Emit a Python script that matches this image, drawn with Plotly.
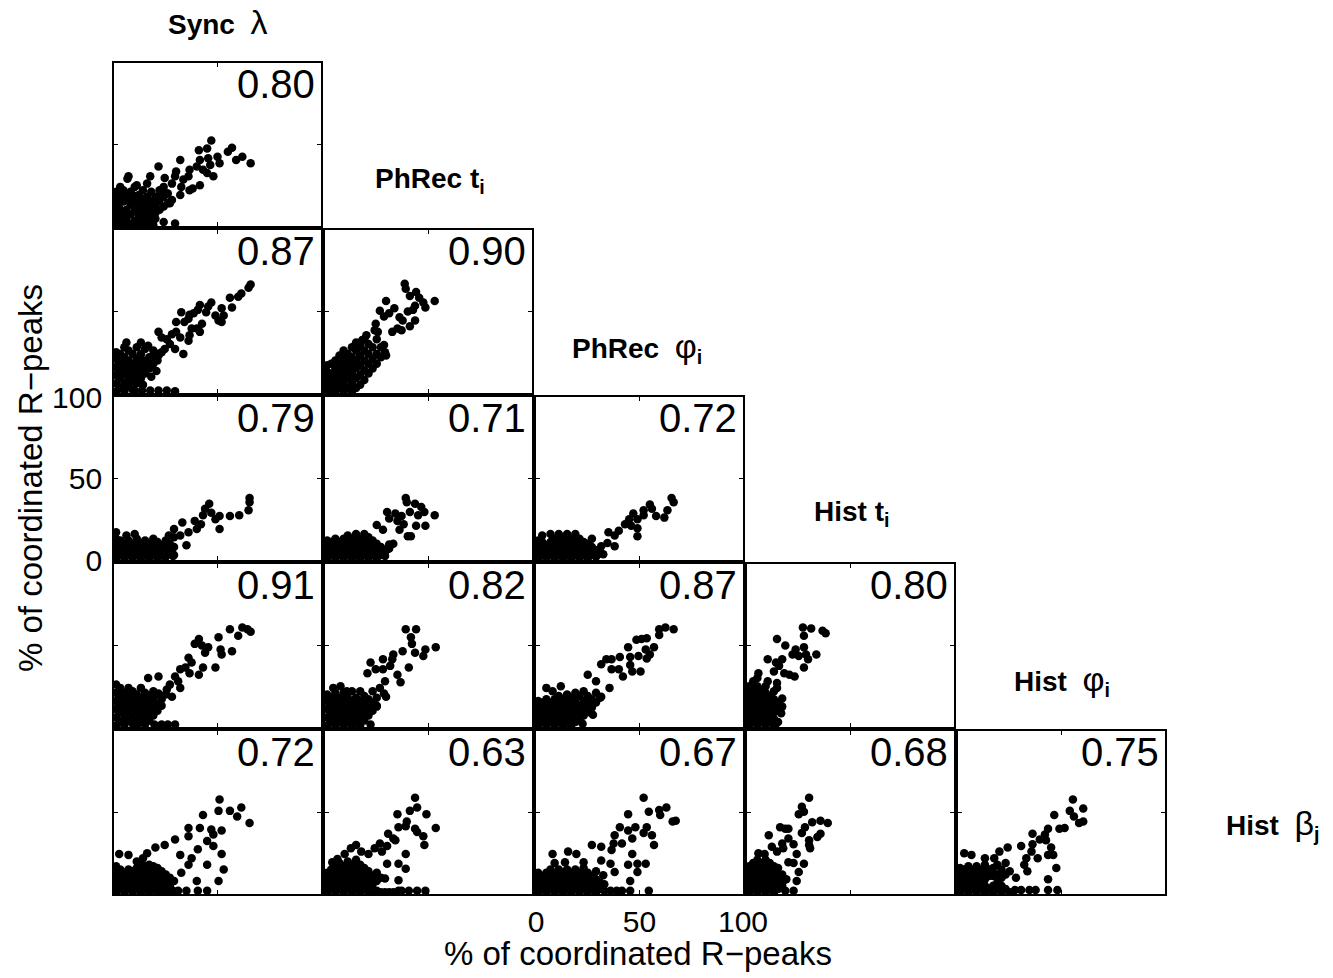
import plotly.graph_objects as go

# ---------------- data ----------------
GR = '<span style="font-size:34px">{}</span>'
var_labels = ["<b>Sync</b>  " + GR.format("λ"),
              "<b>PhRec t<sub>i</sub></b>",
              "<b>PhRec</b>  " + GR.format("φ") + "<sub><b>i</b></sub>",
              "<b>Hist t<sub>i</sub></b>",
              "<b>Hist</b>  " + GR.format("φ") + "<sub><b>i</b></sub>",
              "<b>Hist</b>  " + GR.format("β") + "<sub><b>j</b></sub>"]
corr_r0 = ["0.80"]
corr_r1 = ["0.87", "0.90"]
corr_r2 = ["0.79", "0.71", "0.72"]
corr_r3 = ["0.91", "0.82", "0.87", "0.80"]
corr_r4 = ["0.72", "0.63", "0.67", "0.68", "0.75"]
tick_vals = [0, 50, 100]
tick_text = ["0", "50", "100"]
axis_title = "% of coordinated R\u2212peaks"

# points (x, y) for each panel, row r (y variable = r+1), column c (x variable = c)
pts_r0c0 = [(1,1),(1,5),(1,9),(1,13),(1,17),(1,21),(2.5,3),(2.5,11),(2.5,19),(3,24),(4.5,2),(4.5,7),(4.5,15),(4.5,22),
            (6,4),(6,10),(6,18),(6.5,29),(8,1),(8,7),(8,13),(8,21),(10,3),(10,9),(10,16),(10,24),(12,1),(12,6),(12,12),
            (12,19),(14,4),(14,9),(14,15),(14,22),(16,2),(16,7),(16,12),(16,18),(18,5),(18,10),(18,15),(18,21),(20,8),
            (20,13),(20,18),(22,10),(22,16),(22,22),(24,12),(24,18),(26,14),(26,20),(28,16),(3,0.5),(7,0.5),(11,0.5),
            (15,0.5),(19,0.5),(3,7),(3,15),(7,17),(9,19),(11,14),(13,17),(15,9),(17,13),(19,10),(21,15),(23,20),
            (47,52.5),(57,48),(66,38.5),(62,42.5),(59,40.5),(55,45.5),(50,42.5),(51,38.5),(45,47.5),(41,46.5),(45.5,41.5),
            (41.5,40.5),(46.5,37.5),(43,34.5),(48,30.5),(45,32.5),(40,36.5),(36.5,34.5),(36,30.5),(32,40.5),(21.5,36.5),
            (30,33.5),(33.5,28.5),(32.5,24),(38,23),(41.5,25),(36.5,22),(29.5,30.5),(28,26),(24.5,29.5),(24,24),(25.5,20),
            (32,19),(27,14),(29.5,1.5),(24,2.5),(20,4.5),(16.5,8),(17.5,30.5),(16,26),(11,25),(7,30.5)]

pts_r1c0 = [(1,1),(1,6),(1,11),(1,16),(1,21),(1,25),(3,3),(3,9),(3,14),(3,19),(3,24),(5,1),(5,6),(5,12),(5,17),(5,22),
            (5,28),(7,4),(7,9),(7,15),(7,20),(7,26),(9,2),(9,11),(9,18),(9,24),(11,6),(11,14),(11,21),(11,28),(13,9),
            (13,17),(13,24),(15,12),(15,20),(15,27),(17,15),(17,22),(19,18),(19,26),(21,20),(23,25),(14,5),(18,10),(6,31),
            (9,7),(11,10),(13,13),(15,16),(17,19),(19,22),(11,17),(13,20),(9,14),(7,12),(21,24),
            (66,66.5),(65,64.5),(61.5,61),(60,59),(56,58.5),(57,52.5),(52,52),(53,47.5),(50.5,44.5),(52,43.5),(49,47.5),
            (47,55.5),(45.5,53),(44.5,49.5),(41.5,54),(40.5,51),(38.5,49),(36.5,48),(32.5,49.5),(36,45.5),(34,43.5),
            (42.5,42.5),(40,39.5),(41.5,37.5),(37.5,39.5),(36.5,35.5),(36,32),(32,34),(30,37.5),(30,43.5),(28,36),
            (33.5,24),(29.5,27),(27,30),(21.5,37.5),(23,34),(25.5,33),(24.5,27),(21.5,23),(20.5,13.5),(18,16.5),(13,31),
            (16.5,29),(29.5,1),(25.5,1.5),(21.5,1.5),(17.5,1.5),(13.5,1.5),(10,1.5)]

pts_r1c1 = [(1,1),(1,5),(1,9),(1,13),(1,17),(3,2),(3,7),(3,12),(3,18),(5,1),(5,5),(5,10),(5,15),(5,20),(7,3),(7,8),
            (7,13),(7,18),(7,23),(9,1),(9,6),(9,11),(9,16),(9,21),(9,26),(11,3),(11,9),(11,14),(11,19),(11,24),(13,1),
            (13,6),(13,12),(13,17),(13,22),(13,28),(15,3),(15,9),(15,15),(15,20),(15,26),(15,31),(17,5),(17,11),(17,17),
            (17,23),(17,29),(19,8),(19,14),(19,20),(19,26),(19,33),(21,12),(21,18),(21,24),(21,30),(23,15),(23,21),
            (23,28),(25,18),(25,24),(25,33),(27,22),(27,28),(29,25),
            (38.5,67),(39,64),(44,62),(41,59.5),(45.5,58.5),(53,56.5),(47.5,55.5),(48.5,52.5),(29.5,56.5),(43.5,53.5),
            (42.5,51),(40,50),(33.5,52),(31,49),(26.5,50.5),(36,46.5),(37.5,44.5),(43.5,44.5),(41,41),(35,39.5),
            (37,38.5),(32.5,37.5),(28.5,47),(24.5,42.5),(24,38.5),(25.5,37.5),(20,35.5),(18,32.5),(29.5,23),(28.5,29.5)]

pts_r2c0 = [(1,1),(1,5),(1,9),(1,13),(1,17),(3,3),(3,8),(3,12),(5,1),(5,5),(5,10),(6,15),(7,3),(7,8),(7,12),(9,1),(9,5),
            (9,10),(10,16),(11,3),(11,8),(11,13),(13,1),(13,5),(13,10),(15,3),(15,8),(15,12),(17,1),(17,5),(17,10),(19,3),
            (19,8),(19,13),(21,1),(21,6),(21,11),(23,4),(23,9),(25,2),(25,7),(25,12),(27,5),(27,10),(29,3),(29,8),
            (65.5,38),(65.5,35.5),(65,30.5),(60.5,27.5),(56,27),(51,27),(51,19),(46,34.5),(44,31.5),(47,29),(43,27.5),
            (49,25),(42,22),(39,24),(40,19),(36,17),(33,23),(29,19),(32,15),(35,9),(29,14),(26.5,15),(28.5,2.5),(24,2.5)]

pts_r2c1 = [(1,1),(1,5),(1,9),(1,12),(3,3),(3,7),(3,11),(5,1),(5,5),(5,9),(5,13),(7,3),(7,7),(7,11),(9,1),(9,5),(9,9),
            (9,13),(11,3),(11,7),(11,11),(11,15),(13,1),(13,5),(13,9),(13,13),(15,3),(15,7),(15,11),(15,16),(17,1),(17,5),
            (17,9),(17,13),(19,3),(19,7),(19,11),(19,16),(21,1),(21,5),(21,9),(21,14),(23,3),(23,7),(23,12),(25,1),(25,5),
            (25,10),(27,3),(27,8),(29,5),(31,7),(33,10),
            (39,38),(39.5,35.5),(43.5,34.5),(46.5,32.5),(53,27.5),(48,29.5),(45,27.5),(41,29.5),(37,27),(34,28.5),(30,29.5),
            (31,25.5),(35,24),(38,22),(44,21),(48.5,21),(36,18.5),(40,14.5),(41.5,14.5),(25,21.5),(28,18.5),(31,9.5),
            (30,6.5),(29,2.5)]

pts_r2c2 = [(1,1),(1,5),(1,9),(1,12),(3,3),(3,7),(3,11),(3,15),(5,1),(5,5),(5,9),(7,3),(7,7),(7,11),(7,16),(9,1),(9,5),
            (9,9),(9,13),(11,3),(11,7),(11,11),(11,16),(13,1),(13,5),(13,9),(13,13),(15,3),(15,7),(15,11),(15,16),(17,1),
            (17,5),(17,9),(17,13),(19,3),(19,7),(19,11),(19,16),(21,1),(21,5),(21,9),(21,13),(23,3),(23,7),(23,11),(25,1),
            (25,5),(25,10),(27,3),(27,8),(27,13),(29,2),(29,6),(31,4),
            (65.5,38),(66.5,35.5),(63.5,30.5),(62,26),(58,27),(55,34),(56,31.5),(52,30.5),(52,27.5),(49,25),(47,28.5),
            (45,25),(43,22),(49,19.5),(49,14.5),(46,21),(40,18),(38,15),(35,17),(34.5,10.5),(38,8.5),(31.5,8.5),
            (29.5,5.5),(32.5,3.5)]

pts_r3c0 = [(1,1),(1,6),(1,11),(1,16),(1,21),(1,26),(3,3),(3,9),(3,14),(3,19),(3,24),(5,1),(5,6),(5,11),(5,16),(5,21),
            (7,4),(7,9),(7,14),(7,19),(7,24),(9,2),(9,7),(9,12),(9,17),(9,22),(11,5),(11,10),(11,15),(11,20),(13,3),(13,8),
            (13,13),(13,18),(15,6),(15,11),(15,16),(15,21),(17,9),(17,14),(17,19),(19,12),(19,17),(21,14),(21,20),(23,17),
            (25,20),(13,24),(11,1),(15,2),(17,4),(19,7),(21,10),(23,13),
            (66,58.5),(62,61),(64.5,60),(60,56),(56,60),(50.5,55),(57,46.5),(52,44.5),(51.5,47.5),(45.5,49),(44,45.5),
            (41,54),(42.5,50),(39,51),(36,42.5),(32,35.5),(34.5,36.5),(37.5,39.5),(43,36.5),(41,32),(49,36.5),(36.5,33),
            (29.5,31),(31,28),(27,26),(25.5,23),(21.5,31),(16.5,30),(21.5,20.5),(19,22),(28,18.5),(32,24),(29.5,1.5),
            (26,1.5),(23,1.5),(19.5,1.5),(15,1.5),(11,1.5)]

pts_r3c1 = [(1,1),(1,6),(1,11),(1,16),(1,20),(3,3),(3,8),(3,13),(3,18),(5,1),(5,6),(5,11),(5,16),(5,21),(7,3),(7,8),
            (7,13),(7,18),(9,1),(9,6),(9,11),(9,16),(9,21),(11,3),(11,8),(11,13),(11,18),(13,1),(13,6),(13,11),(13,16),
            (13,22),(15,3),(15,8),(15,13),(15,18),(17,1),(17,6),(17,11),(17,16),(17,22),(19,4),(19,9),(19,14),(19,19),
            (21,7),(21,12),(21,17),(23,10),(23,15),(23,22),(25,13),(25,18),
            (39,60),(44,60),(41.5,55),(42,51),(53.5,49),(48.5,47.5),(47.5,43.5),(43.5,45.5),(37.5,46.5),(33,44.5),
            (32.5,41.5),(28,41.5),(31.5,37.5),(22,39.5),(24.5,35.5),(20.5,33),(28,35.5),(35,32),(40.5,36.5),(36.5,27.5),
            (29,28),(26.5,24),(29.5,18.5),(25,12.5),(28.5,20.5),(22,1.5),(4,24),(7.5,25),(10.5,22)]

pts_r3c2 = [(1,1),(1,5),(1,9),(1,13),(1,16),(3,3),(3,7),(3,11),(3,15),(5,1),(5,5),(5,9),(5,13),(5,17),(7,3),(7,7),
            (7,11),(7,15),(9,1),(9,5),(9,9),(9,13),(9,17),(11,3),(11,7),(11,11),(11,15),(11,19),(13,1),(13,5),(13,9),
            (13,13),(13,17),(15,3),(15,7),(15,11),(15,15),(15,20),(17,1),(17,5),(17,9),(17,13),(17,18),(19,3),(19,7),
            (19,11),(19,16),(19,21),(21,5),(21,9),(21,13),(21,19),(23,7),(23,11),(23,16),(23,22),(25,9),(25,14),(25,19),
            (27,12),(27,17),(29,15),(29,21),(31,18),
            (59.5,60),(62.5,61),(66.5,60),(59.5,56.5),(51,54),(53.5,54.5),(48.5,53.5),(44.5,49),(53,47.5),(57,49),
            (55,44.5),(53.5,42),(49.5,43.5),(45.5,43),(40.5,43),(36.5,41.5),(34,41.5),(31.5,38.5),(40,35.5),(45.5,38),
            (50.5,34),(46.5,34),(42,31),(36.5,35.5),(25,32),(29,28),(35.5,24),(31.5,18.5),(27.5,7.5),(22.5,2),(12,25),
            (5,24),(8,22)]

pts_r3c3 = [(1,1),(1,5),(1,9),(1,13),(1,17),(1,21),(1,25),(3,3),(3,7),(3,11),(3,15),(3,19),(3,23),(3,28),(5,1),(5,5),
            (5,9),(5,13),(5,17),(5,21),(5,25),(7,3),(7,7),(7,11),(7,15),(7,19),(7,23),(9,1),(9,5),(9,9),(9,13),(9,17),
            (9,21),(9,25),(11,3),(11,7),(11,11),(11,15),(11,19),(13,1),(13,5),(13,9),(13,13),(13,17),(13,22),(15,3),
            (15,10),(15,15),
            (27,61),(31,60.5),(36.5,59),(38,57.5),(27.5,56),(14.5,54),(18.5,50),(23.5,47.5),(27.5,49),(22,44.5),(25,43.5),
            (28.5,44.5),(33.5,44.5),(29.5,41.5),(10,41.5),(14,39.5),(17,41.5),(15.5,37.5),(13,34),(18,33),(20.5,32),
            (23,31),(27.5,36.5),(5.5,33),(5,30),(14.5,27),(10,28),(14.5,24),(17,17.5),(17,12.5),(16.5,8.5),(14,2)]

pts_r4c0 = [(1,1),(1,5),(1,9),(1,13),(1,17),(3,3),(3,7),(3,11),(3,15),(5,1),(5,5),(5,9),(5,13),(7,3),(7,7),(7,11),(9,1),
            (9,5),(9,9),(9,14),(11,3),(11,7),(11,11),(11,16),(13,1),(13,5),(13,9),(13,14),(15,3),(15,7),(15,12),(15,17),
            (17,1),(17,5),(17,10),(17,15),(19,3),(19,8),(19,13),(21,1),(21,6),(21,11),(21,16),(23,4),(23,9),(23,14),(25,2),
            (25,7),(25,12),(27,5),(27,10),(29,8),(7,15),(13,18),(17,18),(19,17),(23,1),(27,1),
            (51,58),(50.5,51),(56,51),(61.5,53),(59.5,47.5),(65.5,43.5),(43,48.5),(36,40.5),(41.5,40.5),(47,39.5),(52,39),
            (48,36.5),(45,32.5),(40.5,27.5),(48,29.5),(52,24.5),(29.5,33.5),(24.5,30),(36,35.5),(32,24),(37.5,22),(36,18),
            (45,18),(53,15),(50.5,8),(40,8),(32.5,13),(20,28.5),(16,25),(14,22),(2.5,24.5),(7,24),(11,20),(45,2),(40.5,2),
            (35,2),(31,2),(28.5,2),(22,2),(17.5,2)]

pts_r4c1 = [(1,1),(1,5),(1,9),(1,13),(3,3),(3,7),(3,11),(3,15),(5,1),(5,5),(5,9),(5,13),(5,17),(7,3),(7,7),(7,11),(7,15),
            (7,19),(9,1),(9,5),(9,9),(9,13),(9,17),(11,3),(11,7),(11,11),(11,15),(11,20),(13,1),(13,5),(13,9),(13,13),
            (13,18),(15,3),(15,7),(15,11),(15,15),(15,21),(17,1),(17,5),(17,9),(17,13),(17,18),(19,3),(19,7),(19,11),
            (19,16),(21,1),(21,5),(21,9),(21,14),(23,1),(23,6),(23,11),(25,2),(25,8),(25,13),(27,1),(27,10),(29,1),(31,1),
            (33,1),
            (43.5,59),(44.5,53),(41,51),(49,49),(35,49),(39.5,44.5),(39,41.5),(43.5,40),(44.5,38),(53.5,40.5),(35.5,41),
            (47.5,35.5),(48,30),(30.5,37),(33,34),(34,33),(26.5,31),(30,29.5),(24,28),(27.5,26),(15,30),(12.5,28),
            (9.5,24.5),(17.5,26),(21,24.5),(3.5,19.5),(6,21.5),(30,18.5),(35.5,18.5),(39,24.5),(39,15.5),(35.5,8.5),
            (29,9.5),(48.5,2),(44.5,2),(40.5,2),(37,2),(35.5,2)]

pts_r4c2 = [(1,1),(1,5),(1,9),(1,13),(3,3),(3,7),(3,11),(5,1),(5,5),(5,9),(5,13),(7,3),(7,7),(7,11),(7,15),(9,1),(9,5),
            (9,9),(9,13),(11,3),(11,7),(11,11),(11,15),(13,1),(13,5),(13,9),(13,13),(15,3),(15,7),(15,11),(15,15),(17,1),
            (17,5),(17,9),(17,13),(19,3),(19,7),(19,11),(19,15),(21,1),(21,5),(21,9),(21,13),(23,3),(23,7),(23,11),(23,16),
            (25,1),(25,5),(25,9),(25,13),(27,3),(27,7),(27,11),(29,1),(29,5),(29,9),(29,14),(31,3),(31,7),(33,2),(33,6),
            (52,59),(54.5,50.5),(59.5,51.5),(63,53),(60,48.5),(66,44.5),(67.5,45),(44.5,49),(40.5,41),(44.5,39),(48,41),
            (53.5,41),(52,37.5),(56,36),(46.5,34),(57,30),(38,36),(37.5,31),(41.5,31),(36.5,27),(31.5,29),(27,30),
            (46.5,24.5),(44.5,18),(49,18.5),(53,18.5),(49,13.5),(45.5,8),(36,18.5),(38,13.5),(32.5,11.5),(15.5,26),
            (19.5,24.5),(8,24.5),(9,19),(14,19.5),(23,19.5),(31.5,20.5),(54.5,2),(45.5,2),(41.5,2),(39,2),(36,2)]

pts_r4c3 = [(1,1),(1,5),(1,9),(1,13),(1,17),(3,3),(3,7),(3,11),(3,15),(3,19),(5,1),(5,5),(5,9),(5,13),(5,17),(5,21),(7,3),
            (7,7),(7,11),(7,15),(7,19),(9,1),(9,5),(9,9),(9,13),(9,17),(9,21),(11,3),(11,7),(11,11),(11,15),(11,19),(13,1),
            (13,5),(13,9),(13,13),(13,17),(15,3),(15,7),(15,11),(15,16),(17,5),(17,12),(19,9),
            (30,59),(26.5,53.5),(27.5,50.5),(25,49),(35.5,45),(39,43.5),(31.5,44),(28,41),(26.5,37.5),(35.5,37),(34,35),
            (16,41),(18.5,40),(20,40),(20,34),(10.5,36),(17,31),(22.5,30.5),(30,33),(30,30),(30.5,28),(12,29),(14.5,26),
            (24,24.5),(17.5,28),(20,19.5),(22.5,19),(27.5,18.5),(25,13.5),(24,8),(17.5,8),(22.5,2),(18.5,2),(5.5,25),
            (8.5,24.5)]

pts_r4c4 = [(1,1),(1,5),(1,9),(1,13),(1,16),(3,3),(3,7),(3,11),(3,15),(5,1),(5,5),(5,9),(5,13),(5,17),(7,3),(7,7),(7,11),
            (7,15),(9,1),(9,5),(9,9),(9,13),(9,17),(11,3),(11,7),(11,11),(11,15),(13,1),(13,5),(13,9),(13,13),(13,18),
            (15,3),(15,11),(15,15),(17,1),(17,11),(17,16),(19,3),(19,12),(19,18),(21,1),(21,10),(21,15),(23,3),(23,12),
            (23,19),(25,1),(25,14),(21,5),(17,5),(19,7),
            (55.5,58),(60.5,52.5),(54,51),(56,47.5),(60.5,44.5),(58.5,43.5),(46.5,48.5),(51.5,40.5),(49,40),(43.5,40),
            (42,36.5),(39.5,33.5),(36,37),(42.5,33),(45,28.5),(46,24),(43.5,24),(36,30.5),(35.5,26),(38.5,22),(33,22),
            (32,18),(30.5,29.5),(24,28.5),(20,26),(33.5,14),(28,10),(47.5,16),(43.5,9),(43.5,2.5),(48,2.5),(37.5,2.5),
            (34.5,2.5),(30.5,2.5),(27.5,2.5),(3,25),(6.5,24),(13,22),(17.5,22)]

panel_points = [[pts_r0c0],
                [pts_r1c0, pts_r1c1],
                [pts_r2c0, pts_r2c1, pts_r2c2],
                [pts_r3c0, pts_r3c1, pts_r3c2, pts_r3c3],
                [pts_r4c0, pts_r4c1, pts_r4c2, pts_r4c3, pts_r4c4]]
panel_corr = [corr_r0, corr_r1, corr_r2, corr_r3, corr_r4]

# ---------------- layout geometry (pixels) ----------------
W, H = 1333, 978
col_left0, col_step, pw = 114, 211, 207
row_top0, row_step, ph = 63, 167, 163
FONT = "Liberation Sans, Arial, Helvetica, sans-serif"

def px_x(v):
    return v / W

def px_y(v):
    return 1 - v / H

fig = go.Figure()
layout = {}
annotations = []
n = 0
for r in range(5):
    for c in range(r + 1):
        n += 1
        sfx = "" if n == 1 else str(n)
        pts = panel_points[r][c]
        fig.add_trace(go.Scatter(
            x=[p[0] for p in pts], y=[p[1] for p in pts],
            xaxis="x" + sfx, yaxis="y" + sfx, mode="markers",
            marker=dict(size=8.5, color="black", line=dict(width=0)),
            showlegend=False, hoverinfo="skip"))
        x0 = col_left0 + c * col_step
        y0 = row_top0 + r * row_step
        show_x = (r == 4 and c == 2)
        show_y = (r == 2 and c == 0)
        common = dict(range=[0, 100], showgrid=False, zeroline=False, showline=True, linecolor="black",
                      linewidth=1.8, mirror="ticks", ticks="inside", ticklen=4, tickwidth=1.2, tickcolor="black",
                      tickvals=tick_vals, ticktext=tick_text, tickfont=dict(family=FONT, size=30, color="black"),
                      fixedrange=True, automargin=False)
        layout["xaxis" + sfx] = dict(common, domain=[px_x(x0), px_x(x0 + pw)], anchor="y" + sfx,
                                     showticklabels=show_x, ticklabelstandoff=0)
        layout["yaxis" + sfx] = dict(common, domain=[px_y(y0 + ph), px_y(y0)], anchor="x" + sfx,
                                     showticklabels=show_y, ticklabelstandoff=4)
        annotations.append(dict(xref="x" + sfx + " domain", yref="y" + sfx + " domain", x=1, y=1,
                                xanchor="right", yanchor="top", xshift=-4, yshift=3, showarrow=False,
                                text=panel_corr[r][c], font=dict(family=FONT, size=40, color="black")))

# variable labels along the diagonal
label_pos = [(218, 22), (430, 180), (637, 347), (851, 513), (1062, 680), (1272, 824)]
for lab, (lx, ly) in zip(var_labels, label_pos):
    annotations.append(dict(xref="paper", yref="paper", x=px_x(lx), y=px_y(ly), xanchor="center",
                            yanchor="middle", showarrow=False, text=lab,
                            font=dict(family=FONT, size=28, color="black")))

# axis titles
annotations.append(dict(xref="paper", yref="paper", x=px_x(638), y=px_y(953), xanchor="center", yanchor="middle",
                        showarrow=False, text=axis_title, font=dict(family=FONT, size=33, color="black")))
annotations.append(dict(xref="paper", yref="paper", x=px_x(30), y=px_y(478), xanchor="center", yanchor="middle",
                        showarrow=False, textangle=-90, text=axis_title,
                        font=dict(family=FONT, size=33, color="black")))

fig.update_layout(**layout)
fig.update_layout(width=W, height=H, margin=dict(l=0, r=0, t=0, b=0, pad=0, autoexpand=False),
                  paper_bgcolor="white", plot_bgcolor="white", annotations=annotations,
                  font=dict(family=FONT, color="black"))
fig.write_html("out.html", config={"responsive": False, "displayModeBar": False},
               post_script="document.body.style.margin='0';document.body.style.overflow='hidden';")
